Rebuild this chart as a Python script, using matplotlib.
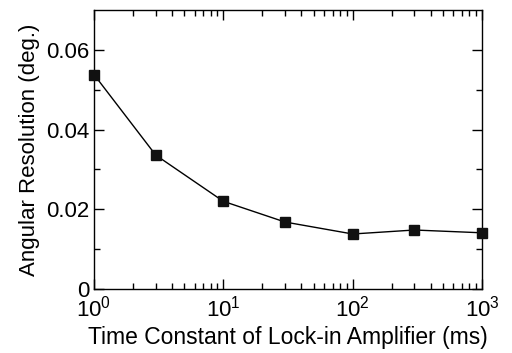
import matplotlib
matplotlib.use("Agg")
import matplotlib.pyplot as plt
from matplotlib.ticker import LogLocator, FixedLocator

plt.rcParams['font.family'] = ['Liberation Sans', 'DejaVu Sans']
plt.rcParams['mathtext.fontset'] = 'custom'
plt.rcParams['mathtext.rm'] = 'Liberation Sans'
plt.rcParams['mathtext.it'] = 'Liberation Sans:italic'
plt.rcParams['mathtext.default'] = 'rm'

time_constant = [1, 3, 10, 30, 100, 300, 1000]
resolution = [0.0538, 0.0336, 0.0220, 0.0168, 0.0138, 0.0148, 0.0141]

fig = plt.figure(figsize=(5.12, 3.53), dpi=100)
ax = fig.add_axes([0.1836, 0.1813, 0.7578, 0.7904])
ax.plot(time_constant, resolution, color='black', lw=1.0, marker='s', ms=6.5,
        mfc='#111111', mec='#111111', clip_on=False, zorder=5)
ax.set_xscale('log')
ax.set_xlim(1, 1000)
ax.set_ylim(0, 0.07)
ax.yaxis.set_major_locator(FixedLocator([0, 0.02, 0.04, 0.06]))
ax.yaxis.set_minor_locator(FixedLocator([0.01, 0.03, 0.05]))
ax.set_yticklabels(['0', '0.02', '0.04', '0.06'])
ax.xaxis.set_major_locator(LogLocator(base=10, numticks=10))
ax.xaxis.set_minor_locator(LogLocator(base=10, subs=range(2, 10), numticks=20))
ax.tick_params(which='both', direction='in', top=True, right=True, labelsize=16, width=1, color='black')
ax.tick_params(axis='x', pad=5)
ax.tick_params(axis='y', pad=3)
ax.tick_params(which='major', length=7)
ax.tick_params(which='minor', length=4)
for s in ax.spines.values():
    s.set_linewidth(1.0)
ax.set_xlabel('Time Constant of Lock-in Amplifier (ms)', fontsize=16.5, labelpad=3)
ax.set_ylabel('Angular Resolution (deg.)', fontsize=16, labelpad=5)
fig.savefig('out.png', dpi=100)
